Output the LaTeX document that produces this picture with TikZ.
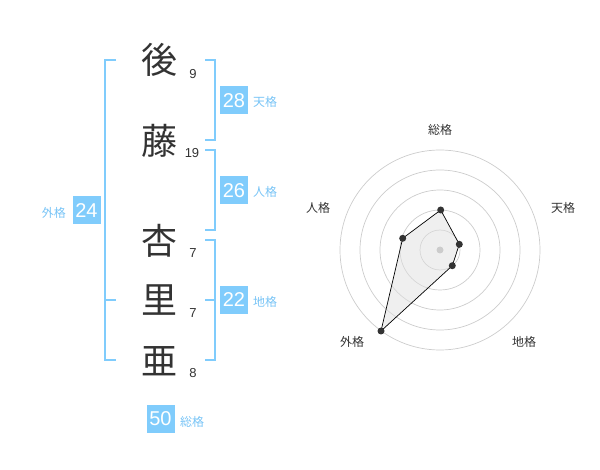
\documentclass[tikz,border=0pt]{standalone}
\usepackage{fontspec}
\setmainfont{Liberation Sans}
\newfontfamily\jp{Noto Sans CJK JP}
\definecolor{sky}{RGB}{128,204,252}
\definecolor{skytext}{RGB}{120,196,246}
\definecolor{ink}{RGB}{51,51,51}
\definecolor{ring}{RGB}{204,204,204}
\begin{document}
\begin{tikzpicture}[x=1pt,y=-1pt,
  kanji/.style={font=\jp\fontsize{36}{36}\selectfont, text=ink, inner sep=0pt},
  strokes/.style={font=\fontsize{13}{13}\selectfont, text=ink, inner sep=0pt},
  valbox/.style={fill=sky, text=white, minimum width=28pt, minimum height=28pt, inner sep=0pt, font=\fontsize{20}{20}\selectfont},
  caption/.style={font=\jp\fontsize{12}{12}\selectfont, text=skytext, inner sep=0pt},
  brk/.style={draw=sky, line width=2pt},
  axislabel/.style={font=\jp\fontsize{12}{12}\selectfont, text=ink, inner sep=0pt},
  dot/.style={circle, fill=ink, minimum size=7pt, inner sep=0pt}]
\useasboundingbox (0,0) rectangle (600,470);
% kanji
\node[kanji] (k1) at (159,60) {後};
\node[kanji] (k2) at (159,141) {藤};
\node[kanji] (k3) at (159,241) {杏};
\node[kanji] (k4) at (159,300) {里};
\node[kanji] (k5) at (159,361) {亜};
\node[strokes] (n1) at (193,74) {9};
\node[strokes] (n2) at (192,153) {19};
\node[strokes] (n3) at (193,253) {7};
\node[strokes] (n4) at (193,313) {7};
\node[strokes] (n5) at (193,373) {8};
% brackets
\coordinate (a1) at (116,60); \coordinate (a2) at (105,60);
\coordinate (a3) at (105,360); \coordinate (a4) at (116,360);
\coordinate (a5) at (105,300); \coordinate (a6) at (116,300);
\draw[brk] (a1) -- (a2) -- (a3) -- (a4);
\draw[brk] (a5) -- (a6);
\coordinate (t1) at (205,60); \coordinate (t2) at (215,60);
\coordinate (t3) at (215,140); \coordinate (t4) at (205,140);
\draw[brk] (t1) -- (t2) -- (t3) -- (t4);
\coordinate (j1) at (205,150); \coordinate (j2) at (215,150);
\coordinate (j3) at (215,230); \coordinate (j4) at (205,230);
\draw[brk] (j1) -- (j2) -- (j3) -- (j4);
\coordinate (c1) at (205,240); \coordinate (c2) at (215,240);
\coordinate (c3) at (215,360); \coordinate (c4) at (205,360);
\coordinate (c5) at (205,300); \coordinate (c6) at (215,300);
\draw[brk] (c1) -- (c2) -- (c3) -- (c4);
\draw[brk] (c5) -- (c6);
% value boxes
\node[valbox] (ten) at (234,100.5) {28};
\node[caption, anchor=west] (tenl) at (253,102) {天格};
\node[valbox] (jin) at (234,190.5) {26};
\node[caption, anchor=west] (jinl) at (253,192) {人格};
\node[valbox] (chi) at (234,300) {22};
\node[caption, anchor=west] (chil) at (253,302) {地格};
\node[valbox] (gai) at (86.5,210.5) {24};
\node[caption, anchor=east] (gail) at (66,213) {外格};
\node[valbox] (sou) at (160.5,419) {50};
\node[caption, anchor=west] (soul) at (180,422) {総格};
% radar
\begin{scope}[shift={(440,250)}]
  \foreach \r in {20,40,60,80,100} \draw[ring, line width=0.7pt] (0,0) circle (\r);
  \coordinate (p1) at (90:-40);
  \coordinate (p2) at (18:-20);
  \coordinate (p3) at (-54:-20);
  \coordinate (p4) at (-126:-100);
  \coordinate (p5) at (162:-39);
\end{scope}
\coordinate (ctr) at (440,250);
\coordinate (q1) at (440.7,210);
\coordinate (q2) at (459.3,244.3);
\coordinate (q3) at (452.3,265.7);
\coordinate (q4) at (381,331);
\coordinate (q5) at (402.7,238.3);
\fill[black!12, opacity=0.5] (q1) -- (q2) -- (q3) -- (q4) -- (q5) -- cycle;
\draw[black, line width=0.7pt] (q1) -- (q2) -- (q3) -- (q4) -- (q5) -- cycle;
\node[circle, fill=ring, minimum size=7pt, inner sep=0pt] (cd) at (ctr) {};
\foreach \q in {q1,q2,q3,q4,q5} \node[dot] at (\q) {};
\node[axislabel] (ls) at (440,130) {総格};
\node[axislabel] (lt) at (563,208) {天格};
\node[axislabel] (lc) at (524,342) {地格};
\node[axislabel] (lg) at (352,342) {外格};
\node[axislabel] (lj) at (318,208) {人格};
\end{tikzpicture}
\end{document}
